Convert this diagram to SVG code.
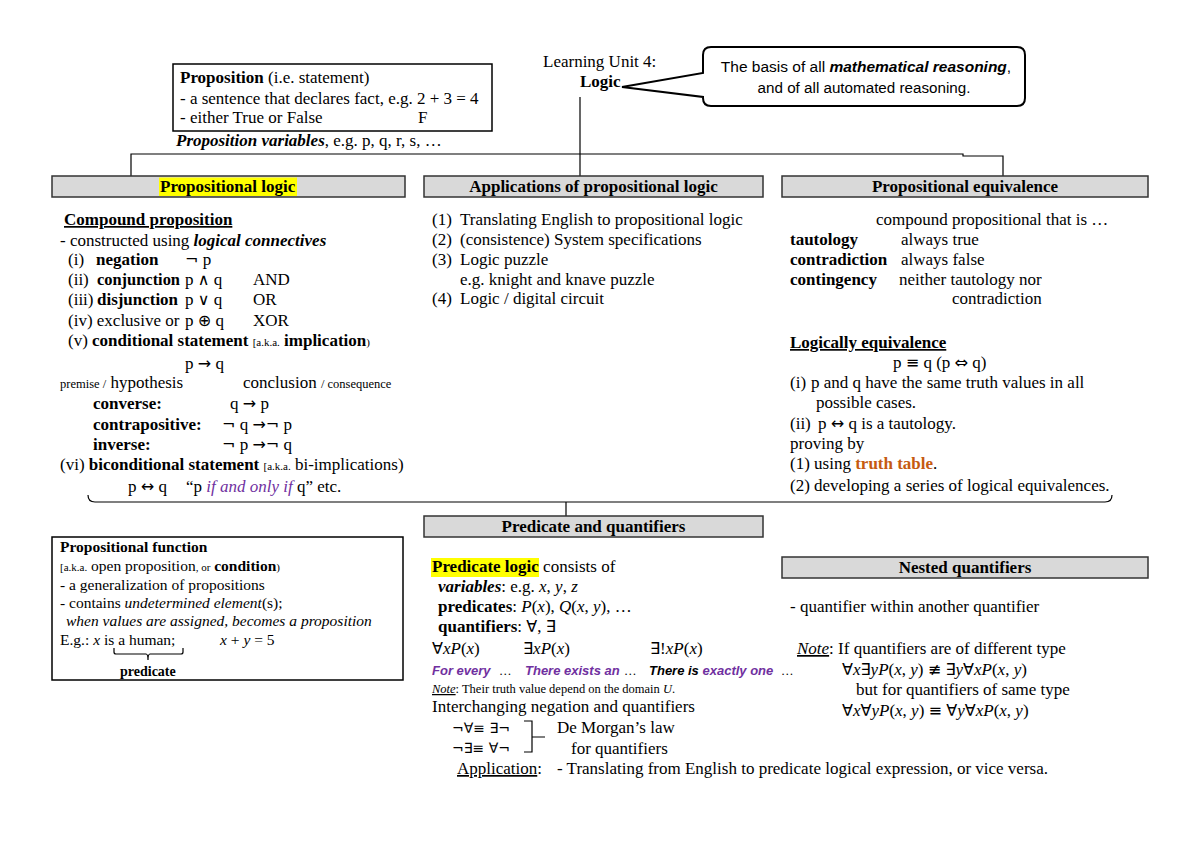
<svg xmlns="http://www.w3.org/2000/svg" width="1200" height="849" viewBox="0 0 1200 849">
<style>
text{font-family:"Liberation Serif","Times New Roman",serif;font-size:17px;fill:#000}
.b{font-weight:bold}
.i{font-style:italic}
.bi{font-weight:bold;font-style:italic}
.u{text-decoration:underline}
.s{font-size:11px}
.sm{font-size:12.5px}
.sym{font-family:"DejaVu Sans",sans-serif;font-size:16px;font-weight:normal;font-style:normal}
.hdr{font-weight:bold;text-anchor:middle}
.box{fill:#d9d9d9;stroke:#333;stroke-width:1.5}
.frame{fill:#fff;stroke:#000;stroke-width:1.5}
.line{fill:none;stroke:#000;stroke-width:1.2}
.pur{fill:#7030a0}
.or{fill:#c55a11;font-weight:bold}
.sans{font-family:"Liberation Sans",Arial,sans-serif}
.fe{font-family:"Liberation Sans",Arial,sans-serif;font-size:13px;font-style:italic;font-weight:bold}
.hl{fill:#ffff00}
.pf text{font-size:15.5px}
</style>

<g id="connectors">
<polyline class="line" points="131,176 131,154 963,154 963,156 1003,156 1003,176"/>
<line class="line" x1="580" y1="97" x2="580" y2="176"/>
<path class="line" d="M88,495 Q88,502 95,502 H1105 Q1112,502 1112,495"/>
<line class="line" x1="566" y1="502" x2="566" y2="516"/>
</g>

<g id="title">
<text x="543" y="67">Learning Unit 4:</text>
<text x="580" y="87" class="b">Logic</text>
</g>

<g id="callout">
<path d="M711,47 H1017 Q1025,47 1025,55 V98 Q1025,106 1017,106 H711 Q703,106 703,98 V97 L622,87 L703,73 V55 Q703,47 711,47 Z" fill="#fff" stroke="#000" stroke-width="2"/>
<text x="866" y="72" text-anchor="middle" class="sans" style="font-size:15.5px">The basis of all <tspan class="bi">mathematical reasoning</tspan>,</text>
<text x="864" y="93" text-anchor="middle" class="sans" style="font-size:15.2px">and of all automated reasoning.</text>
</g>

<g id="proposition">
<rect class="frame" x="173" y="64" width="319" height="67"/>
<text x="180" y="83"><tspan class="b">Proposition</tspan> (i.e. statement)</text>
<text x="180" y="104">- a sentence that declares fact, e.g. 2 + 3 = 4</text>
<text x="180" y="123">- either True or False</text>
<text x="418" y="123">F</text>
<text x="176" y="146"><tspan class="bi">Proposition variables</tspan>, e.g. p, q, r, s, …</text>
</g>

<g id="propositional-logic">
<rect class="box" x="52" y="176" width="353" height="21"/>
<rect class="hl" x="159" y="177.5" width="138" height="18.5"/>
<text x="160" y="192" class="b">Propositional logic</text>
<text x="64" y="225" class="b u">Compound proposition</text>
<text x="60" y="246">- constructed using <tspan class="bi">logical connectives</tspan></text>
<text x="68" y="265">(i)</text><text x="96" y="265" class="b">negation</text><text x="185" y="265"><tspan class="sym">¬</tspan> p</text>
<text x="68" y="285">(ii)</text><text x="97" y="285" class="b" textLength="83" lengthAdjust="spacingAndGlyphs">conjunction</text><text x="185" y="285">p <tspan class="sym">∧</tspan> q</text><text x="253" y="285">AND</text>
<text x="68" y="305">(iii)</text><text x="97" y="305" class="b" textLength="81" lengthAdjust="spacingAndGlyphs">disjunction</text><text x="185" y="305">p <tspan class="sym">∨</tspan> q</text><text x="253" y="305">OR</text>
<text x="68" y="326">(iv) exclusive or</text><text x="185" y="326">p <tspan class="sym">⊕</tspan> q</text><text x="253" y="326">XOR</text>
<text x="68" y="346">(v) <tspan class="b">conditional statement</tspan> <tspan class="s">[a.k.a.</tspan> <tspan class="b">implication</tspan><tspan class="s">)</tspan></text>
<text x="185" y="369">p <tspan class="sym">→</tspan> q</text>
<text x="60" y="388"><tspan class="sm">premise /</tspan> hypothesis</text>
<text x="243" y="388">conclusion <tspan class="sm">/ consequence</tspan></text>
<text x="93" y="409" class="b">converse:</text><text x="230" y="409">q  <tspan class="sym">→</tspan> p</text>
<text x="93" y="430" class="b">contrapositive:</text><text x="222" y="430"><tspan class="sym">¬</tspan> q <tspan class="sym">→¬</tspan> p</text>
<text x="93" y="450" class="b">inverse:</text><text x="222" y="450"><tspan class="sym">¬</tspan> p <tspan class="sym">→¬</tspan> q</text>
<text x="60" y="470">(vi) <tspan class="b">biconditional statement</tspan> <tspan class="s">[a.k.a.</tspan> bi-implications)</text>
<text x="128" y="492">p <tspan class="sym">↔</tspan> q</text>
<text x="186" y="492">“p <tspan class="i pur">if and only if</tspan> q” etc.</text>
</g>

<g id="applications">
<rect class="box" x="424" y="176" width="339" height="21"/>
<text x="593.5" y="192" class="hdr">Applications of propositional logic</text>
<text x="432" y="225">(1)</text><text x="460" y="225">Translating English to propositional logic</text>
<text x="432" y="245">(2)</text><text x="460" y="245">(consistence) System specifications</text>
<text x="432" y="265">(3)</text><text x="460" y="265">Logic puzzle</text>
<text x="460" y="285">e.g. knight and knave puzzle</text>
<text x="432" y="304">(4)</text><text x="460" y="304">Logic / digital circuit</text>
</g>

<g id="propositional-equivalence">
<rect class="box" x="782" y="176" width="366" height="21"/>
<text x="965" y="192" class="hdr">Propositional equivalence</text>
<text x="876" y="225">compound propositional that is …</text>
<text x="790" y="245" class="b">tautology</text><text x="901" y="245">always true</text>
<text x="790" y="265" class="b">contradiction</text><text x="901" y="265">always false</text>
<text x="790" y="285" class="b">contingency</text><text x="899" y="285">neither tautology nor</text>
<text x="952" y="304">contradiction</text>
<text x="790" y="348" class="b u">Logically equivalence</text>
<text x="893" y="368">p <tspan class="sym">≡</tspan> q (p <tspan class="sym">⇔</tspan> q)</text>
<text x="790" y="388">(i)</text><text x="811" y="388">p and q have the same truth values in all</text>
<text x="816" y="408">possible cases.</text>
<text x="790" y="429">(ii)</text><text x="818" y="429">p <tspan class="sym">↔</tspan> q is a tautology.</text>
<text x="790" y="449">proving by</text>
<text x="790" y="469">(1) using <tspan class="or">truth table</tspan>.</text>
<text x="790" y="491">(2) developing a series of logical equivalences.</text>
</g>

<g id="propositional-function" class="pf">
<rect class="frame" x="52" y="537" width="351" height="143"/>
<text x="60" y="552" class="b">Propositional function</text>
<text x="60" y="571"><tspan class="s">[a.k.a.</tspan> open proposition<tspan class="s">, or</tspan> <tspan class="b">condition</tspan><tspan class="s">)</tspan></text>
<text x="60" y="590">- a generalization of propositions</text>
<text x="60" y="608">- contains <tspan class="i">undetermined element</tspan>(s);</text>
<text x="66" y="626" class="i">when values are assigned, becomes a proposition</text>
<text x="60" y="645">E.g.: <tspan class="i">x</tspan> is a human;</text>
<text x="220" y="645"><tspan class="i">x</tspan> + <tspan class="i">y</tspan> = 5</text>
<path class="line" d="M114,648 V652 Q114,654 116,654 H146 Q148,654 148,660 Q148,654 150,654 H181 Q183,654 183,652 V648"/>
<text x="120" y="676" class="b" style="font-size:14px">predicate</text>
</g>

<g id="predicate-quantifiers">
<rect class="box" x="424" y="516" width="339" height="21"/>
<text x="593.5" y="532" class="hdr">Predicate and quantifiers</text>
<rect class="hl" x="431" y="558" width="108" height="19"/>
<text x="432" y="572"><tspan class="b">Predicate logic</tspan> consists of</text>
<text x="438" y="592"><tspan class="bi">variables</tspan>: e.g. <tspan class="i">x</tspan>, <tspan class="i">y</tspan>, <tspan class="i">z</tspan></text>
<text x="438" y="612"><tspan class="b">predicates</tspan>:  <tspan class="i">P</tspan>(<tspan class="i">x</tspan>), <tspan class="i">Q</tspan>(<tspan class="i">x</tspan>, <tspan class="i">y</tspan>), …</text>
<text x="438" y="632"><tspan class="b">quantifiers</tspan>:  <tspan class="sym">∀</tspan>, <tspan class="sym">∃</tspan></text>
<text x="432" y="654"><tspan class="sym">∀</tspan><tspan class="i">xP</tspan>(<tspan class="i">x</tspan>)</text>
<text x="523" y="654"><tspan class="sym">∃</tspan><tspan class="i">xP</tspan>(<tspan class="i">x</tspan>)</text>
<text x="650" y="654"><tspan class="sym">∃</tspan>!<tspan class="i">xP</tspan>(<tspan class="i">x</tspan>)</text>
<text x="432" y="675" class="fe pur">For every</text><text x="499" y="675" class="sm">…</text>
<text x="525" y="675" class="fe pur">There exists an</text><text x="624" y="675" class="sm">…</text>
<text x="649" y="675" class="fe">There is <tspan class="pur">exactly one</tspan></text><text x="781" y="675" class="sm">…</text>
<text x="432" y="693" class="sm"><tspan class="i u">Note</tspan>: Their truth value depend on the domain <tspan class="i">U</tspan>.</text>
<text x="432" y="712">Interchanging negation and quantifiers</text>
<text x="452" y="733" class="sym" style="font-size:14px">¬∀≡ ∃¬</text>
<text x="452" y="753" class="sym" style="font-size:14px">¬∃≡ ∀¬</text>
<path class="line" d="M524,721 H532 V737 H545 M532,737 V752 H524"/>
<text x="557" y="733">De Morgan’s law</text>
<text x="571" y="754">for quantifiers</text>
<text x="457" y="774"><tspan class="u">Application</tspan>:</text>
<text x="557" y="774">- Translating from English to predicate logical expression, or vice versa.</text>
</g>

<g id="nested-quantifiers">
<rect class="box" x="782" y="557" width="366" height="21"/>
<text x="965" y="573" class="hdr">Nested quantifiers</text>
<text x="790" y="612">- quantifier within another quantifier</text>
<text x="797" y="654"><tspan class="i u">Note</tspan>: If quantifiers are of different type</text>
<text x="842" y="675"><tspan class="sym">∀</tspan><tspan class="i">x</tspan><tspan class="sym">∃</tspan><tspan class="i">yP</tspan>(<tspan class="i">x</tspan>, <tspan class="i">y</tspan>) <tspan class="sym">≢</tspan> <tspan class="sym">∃</tspan><tspan class="i">y</tspan><tspan class="sym">∀</tspan><tspan class="i">xP</tspan>(<tspan class="i">x</tspan>, <tspan class="i">y</tspan>)</text>
<text x="856" y="695">but for quantifiers of same type</text>
<text x="842" y="716"><tspan class="sym">∀</tspan><tspan class="i">x</tspan><tspan class="sym">∀</tspan><tspan class="i">yP</tspan>(<tspan class="i">x</tspan>, <tspan class="i">y</tspan>) <tspan class="sym">≡</tspan> <tspan class="sym">∀</tspan><tspan class="i">y</tspan><tspan class="sym">∀</tspan><tspan class="i">xP</tspan>(<tspan class="i">x</tspan>, <tspan class="i">y</tspan>)</text>
</g>
</svg>
